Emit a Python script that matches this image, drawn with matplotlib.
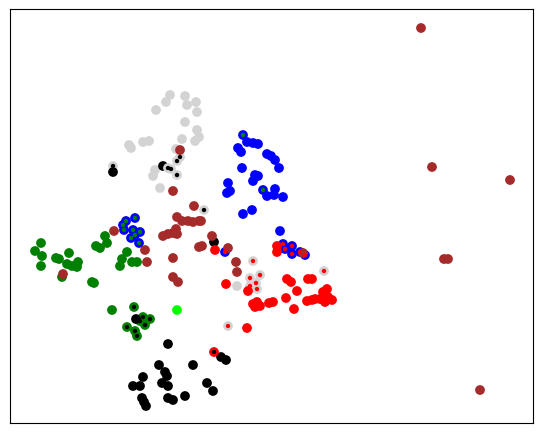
import matplotlib
matplotlib.use("Agg")
import matplotlib.pyplot as plt

# point positions (x to the right, y downward)
# each point has an outer colour and an optional inner (smaller) dot colour
points = [
    # light gray cluster
    (170, 96, "lightgray", ""), (166, 103, "lightgray", ""), (156, 111, "lightgray", ""),
    (185, 97, "lightgray", ""), (187, 106, "lightgray", ""), (196, 103, "lightgray", ""),
    (197, 113, "lightgray", ""), (185, 123, "lightgray", ""), (197, 131, "lightgray", ""),
    (199, 138, "lightgray", ""), (195, 142, "lightgray", ""), (182, 140, "lightgray", ""),
    (149, 142, "lightgray", ""), (143, 143, "lightgray", ""), (129, 146, "lightgray", ""),
    (131, 149, "lightgray", ""), (176, 150, "lightgray", ""), (155, 171, "lightgray", ""),
    (153, 177, "lightgray", ""), (160, 189, "lightgray", ""), (237, 287, "lightgray", ""),
    (113, 167, "lightgray", "black"), (180, 158, "lightgray", "black"),
    (177, 162, "lightgray", "black"), (171, 170, "lightgray", "black"),
    (177, 176, "lightgray", "black"), (204, 211, "lightgray", "black"),
    (113, 173, "black", ""), (163, 167, "black", ""), (168, 169, "lightgray", "black"),
    (253, 262, "lightgray", "red"), (250, 279, "lightgray", "red"), (256, 284, "lightgray", "red"),
    (260, 276, "lightgray", "red"), (250, 287, "lightgray", "red"), (257, 290, "lightgray", "red"),
    (324, 272, "lightgray", "red"), (228, 327, "lightgray", "red"),
    # green cluster
    (41, 244, "green", ""), (35, 252, "green", ""), (42, 257, "green", ""), (41, 267, "green", ""),
    (56, 259, "green", ""), (59, 260, "green", ""), (69, 254, "green", ""), (67, 265, "green", ""),
    (72, 267, "green", ""), (77, 268, "green", ""), (78, 263, "green", ""), (92, 283, "green", ""),
    (94, 284, "green", ""), (96, 247, "green", ""), (100, 249, "green", ""), (105, 237, "green", ""),
    (107, 244, "green", ""), (127, 253, "green", ""), (122, 260, "green", ""), (120, 267, "green", ""),
    (132, 263, "green", ""), (137, 263, "green", ""), (112, 311, "green", ""), (62, 278, "green", ""),
    (134, 308, "green", "black"), (127, 328, "green", "black"), (135, 332, "green", "black"),
    (137, 337, "green", "black"), (143, 318, "green", "black"), (150, 320, "green", "black"),
    (145, 326, "green", "black"), (140, 322, "green", "black"), (136, 320, "black", ""),
    (177, 311, "lime", ""),
    # blue cluster
    (247, 143, "blue", ""), (253, 144, "blue", ""), (258, 145, "blue", ""), (238, 149, "blue", ""),
    (241, 153, "blue", ""), (267, 155, "blue", ""), (271, 157, "blue", ""), (275, 161, "blue", ""),
    (279, 169, "blue", ""), (242, 169, "blue", ""), (255, 176, "blue", ""), (258, 177, "blue", ""),
    (253, 182, "blue", ""), (228, 184, "blue", ""), (227, 194, "blue", ""), (230, 192, "blue", ""),
    (267, 197, "blue", ""), (275, 190, "blue", ""), (274, 196, "blue", ""), (283, 198, "blue", ""),
    (252, 211, "blue", ""), (243, 215, "blue", ""), (280, 232, "blue", ""),
    (243, 136, "blue", "green"), (263, 191, "blue", "green"),
    (123, 226, "blue", "green"), (126, 222, "blue", "green"), (135, 219, "blue", "green"),
    (124, 231, "blue", "green"), (133, 231, "blue", "green"), (135, 236, "blue", "green"),
    (140, 233, "blue", "green"), (139, 244, "blue", "green"), (131, 239, "blue", "green"),
    (225, 253, "blue", "red"), (283, 245, "blue", "red"), (292, 247, "blue", "red"),
    (285, 250, "blue", "red"), (292, 255, "blue", "red"), (300, 253, "blue", "red"),
    (305, 256, "blue", "red"),
    # black cluster
    (168, 345, "black", ""), (221, 358, "black", ""), (226, 361, "black", ""), (159, 366, "black", ""),
    (165, 373, "black", ""), (167, 377, "black", ""), (162, 384, "black", ""), (168, 387, "black", ""),
    (143, 378, "black", ""), (133, 387, "black", ""), (140, 387, "black", ""), (193, 366, "black", ""),
    (207, 384, "black", ""), (213, 392, "black", ""), (185, 397, "black", ""), (168, 399, "black", ""),
    (173, 401, "black", ""), (142, 399, "black", ""), (144, 403, "black", ""), (146, 407, "black", ""),
    (214, 243, "black", ""), (214, 353, "red", "black"),
    # red cluster
    (215, 251, "red", ""), (226, 285, "red", ""), (248, 292, "red", ""), (253, 305, "red", ""),
    (257, 303, "red", ""), (260, 307, "red", ""), (255, 308, "red", ""), (269, 304, "red", ""),
    (273, 303, "red", ""), (286, 299, "red", ""), (294, 310, "red", ""), (287, 280, "red", ""),
    (291, 283, "red", ""), (297, 292, "red", ""), (308, 280, "red", ""), (312, 280, "red", ""),
    (307, 302, "red", ""), (312, 301, "red", ""), (315, 300, "red", ""), (320, 300, "red", ""),
    (323, 293, "red", ""), (327, 290, "red", ""), (328, 298, "red", ""), (332, 301, "red", ""),
    (325, 303, "red", ""), (247, 329, "red", ""), (277, 247, "red", ""), (277, 253, "red", ""),
    # brown points
    (180, 151, "brown", ""), (173, 192, "brown", ""), (194, 207, "brown", ""), (177, 218, "brown", ""),
    (182, 222, "brown", ""), (188, 222, "brown", ""), (193, 223, "brown", ""), (199, 222, "brown", ""),
    (176, 230, "brown", ""), (173, 234, "brown", ""), (163, 237, "brown", ""), (168, 235, "brown", ""),
    (177, 235, "brown", ""), (212, 237, "brown", ""), (199, 248, "brown", ""), (228, 249, "brown", ""),
    (173, 259, "brown", ""), (145, 251, "brown", ""), (147, 263, "brown", ""), (173, 278, "brown", ""),
    (178, 283, "brown", ""), (236, 263, "brown", ""), (237, 273, "brown", ""), (201, 222, "brown", ""),
    (202, 247, "brown", ""), (114, 232, "brown", ""), (303, 254, "brown", ""), (63, 275, "brown", ""),
    (421, 29, "brown", ""), (432, 168, "brown", ""), (510, 181, "brown", ""), (444, 260, "brown", ""),
    (448, 260, "brown", ""), (480, 391, "brown", ""),
]

x = [p[0] for p in points]
y = [p[1] for p in points]
outer = [p[2] for p in points]
inner = [p[3] for p in points]

fig = plt.figure(figsize=(5.44, 4.35), dpi=100)
ax = fig.add_axes([10 / 544, 11 / 435, 523 / 544, 414 / 435])

ax.scatter(x, y, c=outer, edgecolors=outer, s=36, linewidths=1.0)
ix = [x[i] for i in range(len(x)) if inner[i]]
iy = [y[i] for i in range(len(y)) if inner[i]]
ic = [c for c in inner if c]
ax.scatter(ix, iy, c=ic, s=10, linewidths=0)

ax.set_xlim(10, 533)
ax.set_ylim(424, 10)
ax.set_xticks([])
ax.set_yticks([])

fig.savefig("out.png", dpi=100)
